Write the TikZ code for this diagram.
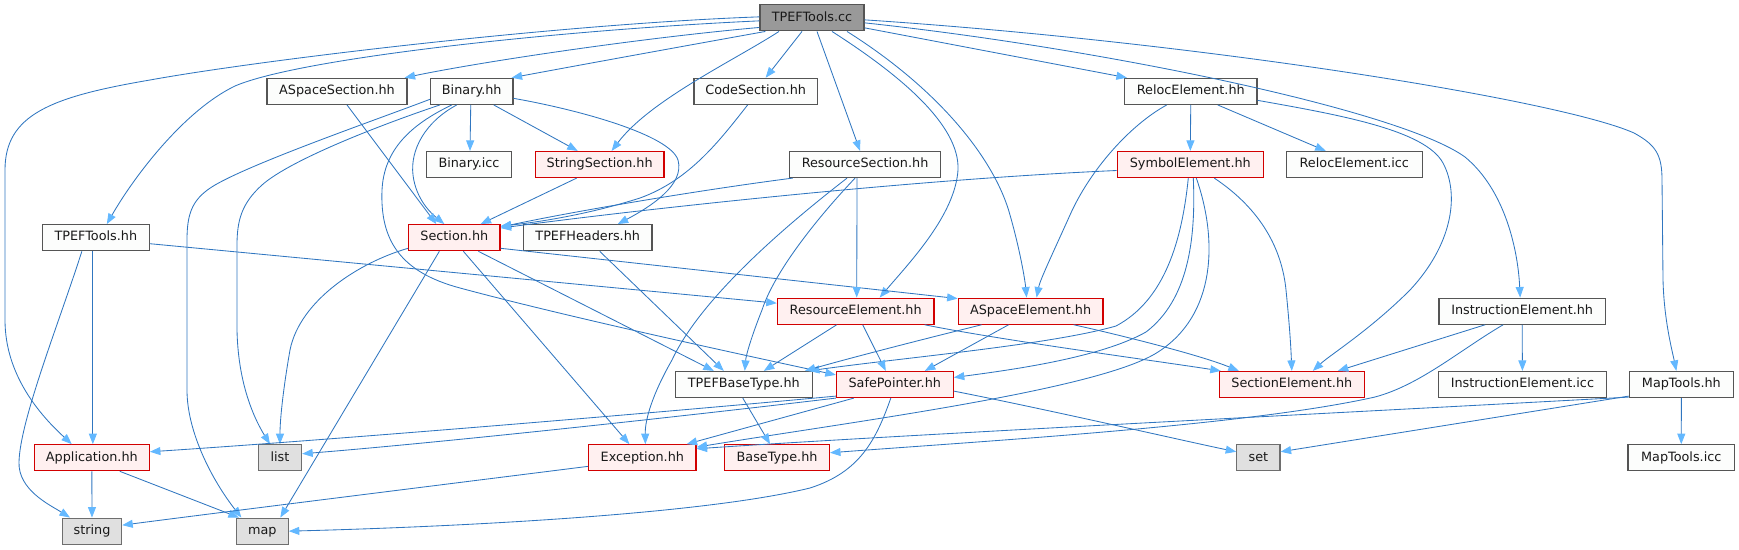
\documentclass[tikz,border=0pt]{standalone}
\usepackage{fontspec}
\setmainfont{DejaVu Sans}
\usetikzlibrary{arrows.meta,calc}
\definecolor{edgecol}{RGB}{48,118,192}
\definecolor{arrcol}{RGB}{99,184,255}
\definecolor{bordgray}{RGB}{85,85,85}
\definecolor{pinkfill}{RGB}{255,240,240}
\definecolor{redbord}{RGB}{210,0,0}
\definecolor{sysfill}{RGB}{224,224,224}
\definecolor{sysbord}{RGB}{110,110,110}
\definecolor{ccfill}{RGB}{153,153,153}
\definecolor{nodefill}{RGB}{252,253,252}
\begin{document}
\begin{tikzpicture}[x=1pt,y=-1pt,
  nb/.style={rectangle, draw=bordgray, fill=nodefill, line width=1.2pt, minimum height=26pt,
    inner sep=0pt, font=\fontsize{12.8}{15}\selectfont, text=black!90, text height=9.5pt, text depth=3pt},
  rb/.style={nb, draw=redbord, fill=pinkfill},
  gb/.style={nb, draw=sysbord, fill=sysfill},
  cb/.style={nb, draw=bordgray, fill=ccfill},
  e/.style={draw=edgecol, line width=0.85pt, -{Triangle[length=10.5pt,width=8pt,color=arrcol]}}]
\useasboundingbox (0,0) rectangle (1739,549);
% row 0
\node[cb, minimum width=104pt] (cc) at (812,17.85) {TPEFTools.cc};
% row 1
\node[nb, minimum width=140pt] (ass) at (337,91.35) {ASpaceSection.hh};
\node[nb, minimum width=82.5pt] (bin) at (471.75,91.35) {Binary.hh};
\node[nb, minimum width=123.3pt] (code) at (755.65,91.35) {CodeSection.hh};
\node[nb, minimum width=132.5pt] (reloc) at (1190.75,91.35) {RelocElement.hh};
% row 2
\node[nb, minimum width=84.6pt] (binicc) at (469,164.5) {Binary.icc};
\node[rb, minimum width=128.7pt] (strs) at (599.65,164.5) {StringSection.hh};
\node[nb, minimum width=151.5pt] (ress) at (865.05,164.5) {ResourceSection.hh};
\node[rb, minimum width=146pt] (sym) at (1190.3,164.5) {SymbolElement.hh};
\node[nb, minimum width=136pt] (relicc) at (1354.3,164.5) {RelocElement.icc};
% row 3
\node[nb, minimum width=106.9pt] (tth) at (95.85,237.7) {TPEFTools.hh};
\node[rb, minimum width=91.3pt] (sec) at (454.35,237.7) {Section.hh};
\node[nb, minimum width=128.6pt] (hdr) at (587.7,237.7) {TPEFHeaders.hh};
% row 4
\node[rb, minimum width=156.6pt] (rese) at (855.7,311.15) {ResourceElement.hh};
\node[rb, minimum width=144.8pt] (ase) at (1030.6,311.15) {ASpaceElement.hh};
\node[nb, minimum width=166.3pt] (ins) at (1522.15,311.15) {InstructionElement.hh};
% row 5
\node[nb, minimum width=137pt] (tbt) at (743.8,384.5) {TPEFBaseType.hh};
\node[rb, minimum width=116.8pt] (sp) at (894.8,384.5) {SafePointer.hh};
\node[rb, minimum width=144.8pt] (sele) at (1291.8,384.5) {SectionElement.hh};
\node[nb, minimum width=168pt] (insicc) at (1522.4,384.5) {InstructionElement.icc};
\node[nb, minimum width=104.1pt] (mt) at (1681.35,384.5) {MapTools.hh};
% row 6
\node[rb, minimum width=114.9pt] (app) at (91.85,457.75) {Application.hh};
\node[gb, minimum width=43.3pt] (list) at (279.95,457.75) {list};
\node[rb, minimum width=107.3pt] (exc) at (642.35,457.75) {Exception.hh};
\node[rb, minimum width=104.7pt] (bt) at (777.05,457.75) {BaseType.hh};
\node[gb, minimum width=43.2pt] (set) at (1258.4,457.75) {set};
\node[nb, minimum width=106.5pt] (mticc) at (1681.25,457.75) {MapTools.icc};
% row 7
\node[gb, minimum width=59.3pt] (str) at (92,531.15) {string};
\node[gb, minimum width=51.7pt] (map) at (262.35,531.15) {map};

% edges from TPEFTools.cc
\draw[e] ($(cc.west)+(0,-1)$) .. controls (560,24) and (260,60) .. (150,80) .. controls (50,97) and (5,115) .. (5,170) -- (5,320) .. controls (5,375) and (40,415) .. ($(app.north west)+(38,0)$);
\draw[e] ($(cc.west)+(0,3)$) .. controls (560,30) and (300,58) .. (235,86) .. controls (185,110) and (135,175) .. ($(tth.north west)+(65,0)$);
\draw[e] ($(cc.south west)+(0,-4)$) .. controls (640,38) and (480,62) .. ($(ass.north east)+(-3,0)$);
\draw[e] ($(cc.south west)+(6,0)$) .. controls (690,45) and (580,65) .. ($(bin.north east)+(-2,0)$);
\draw[e] ($(cc.south)+(-33,0)$) .. controls (735,60) and (650,100) .. ($(strs.north)+(12,0)$);
\draw[e] ($(cc.south)+(-10,0)$) -- ($(code.north)+(10,0)$);
\draw[e] ($(cc.south)+(5,0)$) -- ($(ress.north)+(-5,0)$);
\draw[e] ($(cc.south)+(20,0)$) .. controls (900,75) and (960,125) .. (958,170) .. controls (955,215) and (910,262) .. ($(rese.north)+(24,0)$);
\draw[e] ($(cc.south)+(35,0)$) .. controls (940,90) and (995,160) .. (1010,215) .. controls (1020,250) and (1025,280) .. ($(ase.north)+(-4,0)$);
\draw[e] ($(cc.east)+(0,10)$) -- ($(reloc.north west)+(3,0)$);
\draw[e] ($(cc.east)+(0,5)$) .. controls (1100,48) and (1400,110) .. (1465,157) .. controls (1505,190) and (1518,250) .. ($(ins.north)+(-2,0)$);
\draw[e] ($(cc.east)+(0,2)$) .. controls (1200,42) and (1560,100) .. (1634,133) .. controls (1656,145) and (1662,155) .. (1662,180) -- (1663,280) .. controls (1664,320) and (1672,350) .. ($(mt.north)+(-5,0)$);
% Binary.hh
\draw[e] ($(bin.south)+(-1,0)$) -- ($(binicc.north)+(1,0)$);
\draw[e] ($(bin.south)+(22,0)$) -- ($(strs.north west)+(43,0)$);
\draw[e] ($(bin.east)+(0,7)$) .. controls (580,110) and (670,135) .. (678,160) .. controls (685,185) and (650,207) .. ($(hdr.north)+(30,0)$);
\draw[e] ($(bin.south)+(-15,0)$) .. controls (425,122) and (410,150) .. (413,175) .. controls (416,200) and (432,214) .. ($(sec.north)+(-10,0)$);
\draw[e] ($(bin.south west)+(10,0)$) .. controls (380,125) and (290,160) .. (262,185) .. controls (242,203) and (237,220) .. (237,245) -- (237,330) .. controls (238,380) and (252,415) .. ($(list.north)+(-10,0)$);
\draw[e] ($(bin.west)+(0,8)$) .. controls (370,122) and (255,162) .. (215,185) .. controls (193,198) and (187,212) .. (187,240) -- (187,390) .. controls (187,432) and (212,480) .. ($(map.north)+(-21,0)$);
\draw[e] ($(bin.south)+(-20,0)$) .. controls (410,125) and (384,150) .. (382,190) .. controls (380,240) and (400,272) .. (460,288) .. controls (560,315) and (720,350) .. ($(sp.north west)+(0,4)$);
% ASpaceSection.hh
\draw[e] ($(ass.south)+(10,0)$) -- ($(sec.north)+(-18,0)$);
% Section.hh
\draw[e] ($(sec.south west)+(0,-3)$) .. controls (360,262) and (300,300) .. (290,350) .. controls (283,390) and (280,420) .. (list.north);
\draw[e] ($(sec.south)+(-15,0)$) -- ($(map.north)+(18,0)$);
\draw[e] ($(sec.south)+(9,0)$) -- ($(exc.north)+(-13,0)$);
\draw[e] ($(sec.south)+(24,0)$) -- ($(tbt.north)+(-30,0)$);
\draw[e] ($(sec.south east)+(0,-3)$) -- ($(ase.north west)+(0,1)$);
% TPEFTools.hh
\draw[e] ($(tth.east)+(0,6)$) -- ($(rese.west)+(0,-8)$);
\draw[e] ($(tth.south)+(-3,0)$) -- ($(app.north)+(1,0)$);
\draw[e] ($(tth.south)+(-14,0)$) .. controls (60,320) and (20,420) .. (19,462) .. controls (18,490) and (50,505) .. ($(str.north)+(-22,0)$);
% into Section.hh from the right
\draw[e] ($(strs.south)+(-23,0)$) -- ($(sec.north east)+(-20,0)$);
\draw[e] ($(code.south)+(-8,0)$) .. controls (720,140) and (690,180) .. (640,198) .. controls (590,214) and (540,222) .. ($(sec.north east)+(0,2)$);
\draw[e] ($(ress.south west)+(4,0)$) .. controls (700,190) and (570,212) .. ($(sec.north east)+(0,3)$);
\draw[e] ($(sym.west)+(0,6)$) .. controls (900,180) and (620,212) .. ($(sec.north east)+(0,4)$);
% ResourceSection.hh
\draw[e] ($(ress.south)+(-8,0)$) -- ($(rese.north)+(1,0)$);
\draw[e] ($(ress.south)+(-10,0)$) .. controls (820,215) and (775,270) .. (762,310) .. controls (752,335) and (746,355) .. ($(tbt.north)+(1,0)$);
\draw[e] ($(ress.south)+(-18,0)$) .. controls (780,230) and (700,300) .. (672,360) .. controls (652,395) and (645,420) .. ($(exc.north)+(3,0)$);
% TPEFHeaders.hh
\draw[e] ($(hdr.south)+(12,0)$) -- ($(tbt.north)+(-20,0)$);
% RelocElement.hh
\draw[e] (reloc.south) -- (sym.north);
\draw[e] ($(reloc.south)+(27,0)$) -- ($(relicc.north west)+(40,0)$);
\draw[e] ($(reloc.south)+(-24,0)$) .. controls (1130,125) and (1090,170) .. (1070,215) .. controls (1052,255) and (1040,280) .. ($(ase.north)+(6,0)$);
\draw[e] ($(reloc.east)+(0,9)$) .. controls (1340,115) and (1425,130) .. (1443,163) .. controls (1460,195) and (1452,245) .. (1410,290) .. controls (1370,330) and (1330,355) .. ($(sele.north)+(21,0)$);
% SymbolElement.hh
\draw[e] ($(sym.south)+(24,0)$) .. controls (1262,210) and (1282,250) .. (1286,290) .. controls (1290,330) and (1291,350) .. (sele.north);
\draw[e] ($(sym.south)+(-2,0)$) .. controls (1182,240) and (1165,300) .. (1116,326) .. controls (1050,345) and (900,358) .. ($(tbt.north east)+(-4,0)$);
\draw[e] ($(sym.south)+(3,0)$) .. controls (1196,240) and (1188,300) .. (1146,332) .. controls (1100,358) and (1010,370) .. ($(sp.east)+(0,-7)$);
\draw[e] ($(sym.south)+(6,0)$) .. controls (1218,240) and (1216,315) .. (1158,352) .. controls (1100,390) and (850,422) .. ($(exc.north east)+(0,3)$);
% ResourceElement.hh
\draw[e] ($(rese.south)+(-19,0)$) -- ($(tbt.north)+(20,0)$);
\draw[e] ($(rese.south)+(7,0)$) -- ($(sp.north)+(-9,0)$);
\draw[e] ($(rese.south east)+(-10,0)$) .. controls (1000,340) and (1150,360) .. ($(sele.north west)+(2,0)$);
% ASpaceElement.hh
\draw[e] ($(ase.south)+(-22,0)$) -- ($(sp.north)+(30,0)$);
\draw[e] ($(ase.south west)+(24,0)$) .. controls (920,340) and (850,358) .. ($(tbt.north east)+(-8,0)$);
\draw[e] ($(ase.south east)+(-30,0)$) .. controls (1120,335) and (1200,355) .. ($(sele.north west)+(20,0)$);
% InstructionElement.hh
\draw[e] ($(ins.south)+(-37,0)$) -- ($(sele.north east)+(-27,0)$);
\draw[e] (ins.south) -- (insicc.north);
\draw[e] ($(ins.south)+(-19,0)$) .. controls (1460,350) and (1420,385) .. (1375,397) .. controls (1250,425) and (1000,440) .. ($(bt.east)+(0,-5)$);
% MapTools.hh
\draw[e] (mt.south) -- (mticc.north);
\draw[e] ($(mt.south west)+(0,-2)$) -- ($(set.east)+(0,-6)$);
\draw[e] ($(mt.south west)+(0,-1)$) .. controls (1300,415) and (900,435) .. ($(exc.east)+(0,-9)$);
% TPEFBaseType.hh
\draw[e] ($(tbt.south)+(-1,0)$) -- ($(bt.north)+(-7,0)$);
% SafePointer.hh
\draw[e] ($(sp.south west)+(0,-2)$) .. controls (600,418) and (300,442) .. ($(app.east)+(0,-6)$);
\draw[e] (sp.south west) .. controls (600,426) and (400,446) .. ($(list.east)+(0,-4)$);
\draw[e] ($(sp.south)+(-41,0)$) -- ($(exc.north east)+(-10,0)$);
\draw[e] ($(sp.south)+(-4,0)$) .. controls (876,440) and (860,472) .. (810,488) .. controls (700,515) and (450,527) .. (map.east);
\draw[e] ($(sp.south east)+(0,-7)$) .. controls (1050,410) and (1180,440) .. ($(set.west)+(0,-6)$);
% Application.hh
\draw[e] (app.south) -- (str.north);
\draw[e] ($(app.south east)+(-30,0)$) -- ($(map.north west)+(3,0)$);
% Exception.hh
\draw[e] ($(exc.south west)+(0,-5)$) .. controls (400,490) and (200,515) .. ($(str.east)+(0,-6)$);
\end{tikzpicture}
\end{document}
